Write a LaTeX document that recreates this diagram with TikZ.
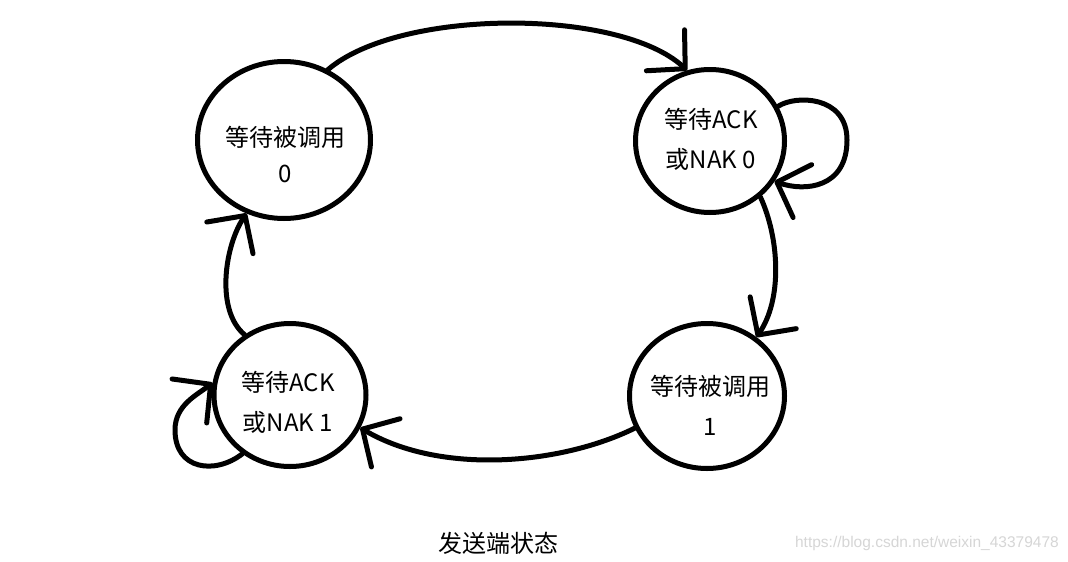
\documentclass[tikz,border=0pt]{standalone}
\usepackage{fontspec}
\newfontfamily\cjk{Noto Sans CJK SC}
\newfontfamily\wmfont{Liberation Sans}
\usetikzlibrary{shapes.geometric,arrows.meta}
\begin{document}
\begin{tikzpicture}[x=1pt,y=-1pt,
  stnode/.style={ellipse,draw,line width=5pt,inner sep=0pt},
  sttext/.style={align=center,inner sep=0pt,font=\cjk\fontsize{24}{40}\selectfont},
  conn/.style={line width=5pt,line cap=round,-{Straight Barb[length=27pt,width=56pt,round]}}]
\useasboundingbox (0,0) rectangle (1068,562);
\fill[white] (0,0) rectangle (1068,562);
% states
\node[stnode,minimum width=173pt,minimum height=157pt] (c0) at (284,140) {};
\node[stnode,minimum width=149pt,minimum height=143pt] (c1) at (710,141) {};
\node[stnode,minimum width=155pt,minimum height=145pt] (c2) at (707,396) {};
\node[stnode,minimum width=152pt,minimum height=143pt] (c3) at (290,395) {};
% texts
\node[sttext,font=\cjk\fontsize{24}{36}\selectfont] (t0) at (285,155) {等待被调用\\0};
\node[sttext] (t1) at (711,139) {等待ACK\\或NAK 0};
\node[sttext] (t2) at (710,405) {等待被调用\\1};
\node[sttext] (t3) at (288,402) {等待ACK\\或NAK 1};
% connectors
\draw[conn] (c0.58) .. controls (400,8) and (620,8) .. (c1.108);
\draw[conn] (c1.27) .. controls (795,95) and (847,95) .. (847,140)
            .. controls (847,188) and (805,192) .. (c1.-32);
\draw[conn] (c1.-48) .. controls (780,240) and (782,300) .. (c2.50);
\draw[conn] (c2.204) .. controls (560,465) and (440,475) .. (c3.-25);
\draw[conn] (c3.-129) .. controls (215,475) and (175,470) .. (175,430)
            .. controls (175,405) and (197,395) .. (c3.171);
\draw[conn] (c3.127) .. controls (215,310) and (225,245) .. (c0.-117);
% captions
\node[font=\cjk\fontsize{24}{28}\selectfont,inner sep=0pt] (title) at (498,543) {发送端状态};
\node[font=\wmfont\fontsize{15.5}{18}\selectfont,text=black!16,inner sep=0pt,anchor=east] (wm) at (1059,543) {https://blog.csdn.net/weixin\_43379478};
\end{tikzpicture}
\end{document}
